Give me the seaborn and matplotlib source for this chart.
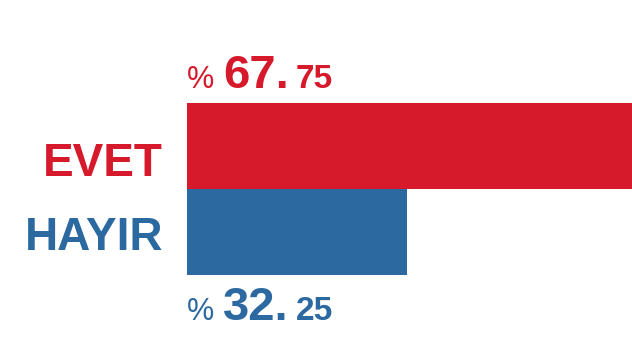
import matplotlib
matplotlib.use("Agg")
import matplotlib.pyplot as plt
from matplotlib.transforms import offset_copy
import seaborn as sns
import pandas as pd

categories = ["EVET", "HAYIR"]
values = [67.75, 32.25]
colors = ["#D6192B", "#2B69A0"]

sns.set_theme(style="white")
plt.rcParams["font.family"] = ["Liberation Sans", "DejaVu Sans"]

df = pd.DataFrame({"cat": categories, "val": values})

fig = plt.figure(figsize=(6.32, 3.56), dpi=100)
ax = fig.add_axes([187 / 632, 81 / 356, 445 / 632, 172 / 356])
sns.barplot(data=df, x="val", y="cat", hue="cat", palette=colors, width=1.0,
            saturation=1, orient="h", legend=False, ax=ax, linewidth=0)
ax.set_xlim(0, 65.2)
ax.set_ylim(1.5, -0.5)
ax.set_axis_off()

PX = 72 / 100  # pixels -> points

# Category labels
label_dy = [-30, -18.5]
for i, (cat, col) in enumerate(zip(categories, colors)):
    tr = offset_copy(ax.get_yaxis_transform(), fig=fig, x=-24 * PX,
                     y=label_dy[i] * PX, units="points")
    ax.text(0, i, cat, transform=tr, ha="right", va="baseline",
            fontsize=33, fontweight="bold", color=col, clip_on=False)

# Value labels: "% 67. 75"
renderer = fig.canvas.get_renderer()
anchors = [(-0.5, 15), (1.5, -45)]
for i, (v, col) in enumerate(zip(values, colors)):
    whole, frac = f"{v:.2f}".split(".")
    pieces = [("%", 22, "normal", 9), (whole + ".", 34, "bold", 7), (frac, 24, "bold", 0)]
    yd, dy = anchors[i]
    xoff = 0.0
    for txt, fs, fw, gap in pieces:
        tr = offset_copy(ax.transData, fig=fig, x=xoff * PX, y=dy * PX, units="points")
        t = ax.text(0, yd, txt, transform=tr, ha="left", va="baseline",
                    fontsize=fs, fontweight=fw, color=col, clip_on=False)
        w = t.get_window_extent(renderer).width
        xoff += w + gap

fig.savefig("out.png", dpi=100)
